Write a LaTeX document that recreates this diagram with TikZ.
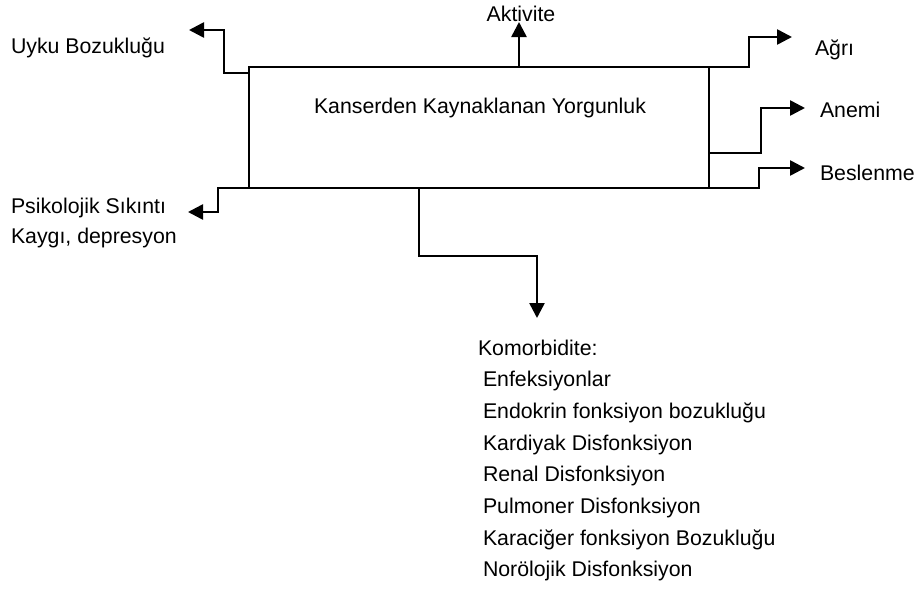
\documentclass[tikz,border=0pt]{standalone}
\usepackage{fontspec}
\setmainfont{Liberation Sans}
\usetikzlibrary{arrows.meta,calc}
\begin{document}
\begin{tikzpicture}[x=1pt,y=-1pt,
  every node/.style={font=\fontsize{21.3}{25}\selectfont, inner sep=0pt, outer sep=0pt},
  boxstyle/.style={draw, line width=2.3pt, minimum width=460pt, minimum height=121pt},
  conn/.style={line width=2.6pt, -{Triangle[length=15pt,width=15pt]}},
  lbl/.style={anchor=base west},
]
\useasboundingbox (0,0) rectangle (919,589);

\node[boxstyle, anchor=north west] (box) at (249,67) {};
\node[anchor=base] (title) at (480,113) {Kanserden Kaynaklanan Yorgunluk};

% labels
\node[anchor=base] (akt) at (521,21) {Aktivite};
\node[lbl] (uyku) at (11,53) {Uyku Bozukluğu};
\node[lbl] (psi) at (11,213) {Psikolojik Sıkıntı};
\node[lbl] (kaygi) at (11,243) {Kaygı, depresyon};
\node[lbl] (agri) at (815,55) {Ağrı};
\node[lbl] (anemi) at (820,117) {Anemi};
\node[lbl] (besl) at (820,180) {Beslenme};

\node[lbl] (k0) at (478,355) {Komorbidite:};
\foreach \t [count=\i] in {Enfeksiyonlar, Endokrin fonksiyon bozukluğu, Kardiyak Disfonksiyon, Renal Disfonksiyon, Pulmoner Disfonksiyon, Karaciğer fonksiyon Bozukluğu, Norölojik Disfonksiyon}
  \node[lbl] (k\i) at (483,355+31.7*\i) {\t};

% arrow tips
\coordinate (tAkt) at (519,22);
\coordinate (tUyku) at (189,30);
\coordinate (tPsi) at (188,212);
\coordinate (tKom) at (537,318);
\coordinate (tAgri) at (792,37);
\coordinate (tAnemi) at (805,108);
\coordinate (tBesl) at (805,168);

% connectors
\draw[conn] (box.north -| tAkt) -- (tAkt);
\draw[conn] ($(box.north west)+(0,6)$) -- ++(-25,0) |- (tUyku);
\draw[conn] (box.south west) -- ++(-31,0) |- (tPsi);
\draw[conn] ($(box.south west)+(170,0)$) -- ++(0,68) -| (tKom);
\draw[conn] (box.north east) -- ++(40,0) |- (tAgri);
\draw[conn] ($(box.north east)+(0,86)$) -- ++(52,0) |- (tAnemi);
\draw[conn] (box.south east) -- ++(50,0) |- (tBesl);
\end{tikzpicture}
\end{document}
